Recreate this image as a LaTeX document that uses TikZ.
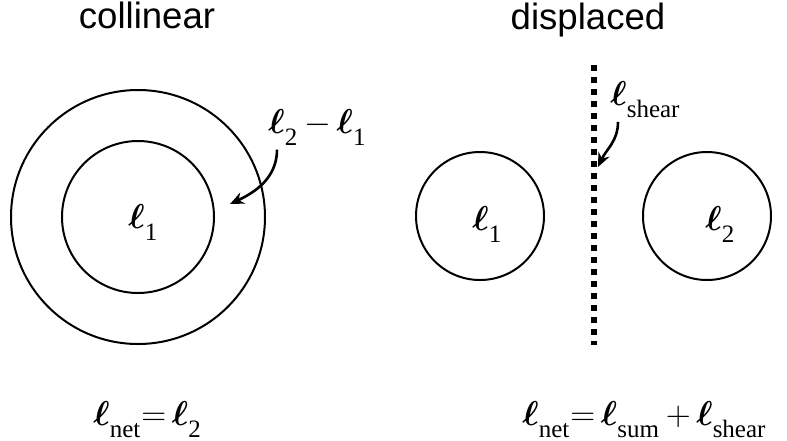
\documentclass[tikz,border=0pt]{standalone}
\usepackage{amsmath,amssymb}
\usepackage{fontspec}
\setmainfont{Liberation Serif}
\newfontfamily\headfont{Liberation Sans}
\usepackage{xcolor}
\usepackage{tikz}
\usetikzlibrary{arrows.meta}
\definecolor{ink}{HTML}{000000}
\newcommand{\bell}{\boldsymbol{\ell}}
\newcommand{\subfont}{\fontsize{12.5}{14}\selectfont}
\newcommand{\ls}[1]{\bell_{\mbox{\subfont\raisebox{-3.5pt}{#1}}}}
\tikzset{fig/.style={line join=round,>=Stealth},
  ring/.style={circle,draw=ink,line width=1pt,inner sep=0pt},
  head/.style={anchor=base,font=\headfont\fontsize{18.3}{20}\selectfont},
  lab/.style={anchor=base west,inner sep=0pt,font=\fontsize{16}{18}\selectfont},
  eqn/.style={anchor=base west,inner sep=0pt,font=\fontsize{17}{19}\selectfont},
  curlarrow/.style={->,line width=1.3pt,>={Stealth[length=7pt,width=6pt]}},
  dotline/.style={line width=3.2pt,dash pattern=on 3.2pt off 2.8pt}}

\begin{document}
\begin{tikzpicture}[fig,x=0.5pt,y=0.5pt]
  \useasboundingbox (0,0) rectangle (787,-440);
  % collinear
  \node[head] (tcol) at (147,-28) {collinear};
  \node[ring,minimum size=127pt] (outer) at (138,-217) {};
  \node[ring,minimum size=76pt] (inner) at (138,-217) {};
  \node[lab] (l1a) at (128,-228) {$\ls{1}$};
  \node[lab] (diff) at (268,-133) {$\ls{2}\,{-}\,\ls{1}$};
  \coordinate (tipa) at (230,-204);
  \draw[curlarrow] ([xshift=4.5pt,yshift=-2pt]diff.south west) to[out=-90,in=25] (tipa);
  \node[eqn] (eqa) at (93,-425) {$\ls{net}{=}\,\ls{2}$};
  % displaced
  \node[head] (tdis) at (588,-29) {displaced};
  \node[ring,minimum size=64pt] (ca) at (480,-216) {};
  \node[ring,minimum size=64pt] (cb) at (707,-216) {};
  \node[lab] (l1b) at (472,-230) {$\ls{1}$};
  \node[lab] (l2b) at (705,-230) {$\ls{2}$};
  \coordinate (dtop) at (594,-65);\coordinate (dbot) at (594,-345);
  \draw[dotline] (dtop)--(dbot);
  \node[lab] (shr) at (610,-105) {$\ls{shear}$};
  \coordinate (tipb) at (598,-167);
  \draw[curlarrow] ([xshift=4pt,yshift=-2pt]shr.south west) to[out=-90,in=65] (tipb);
  \node[eqn] (eqb) at (522,-425) {$\ls{net}{=}\,\ls{sum}\,{+}\,\ls{shear}$};
\end{tikzpicture}
\end{document}
